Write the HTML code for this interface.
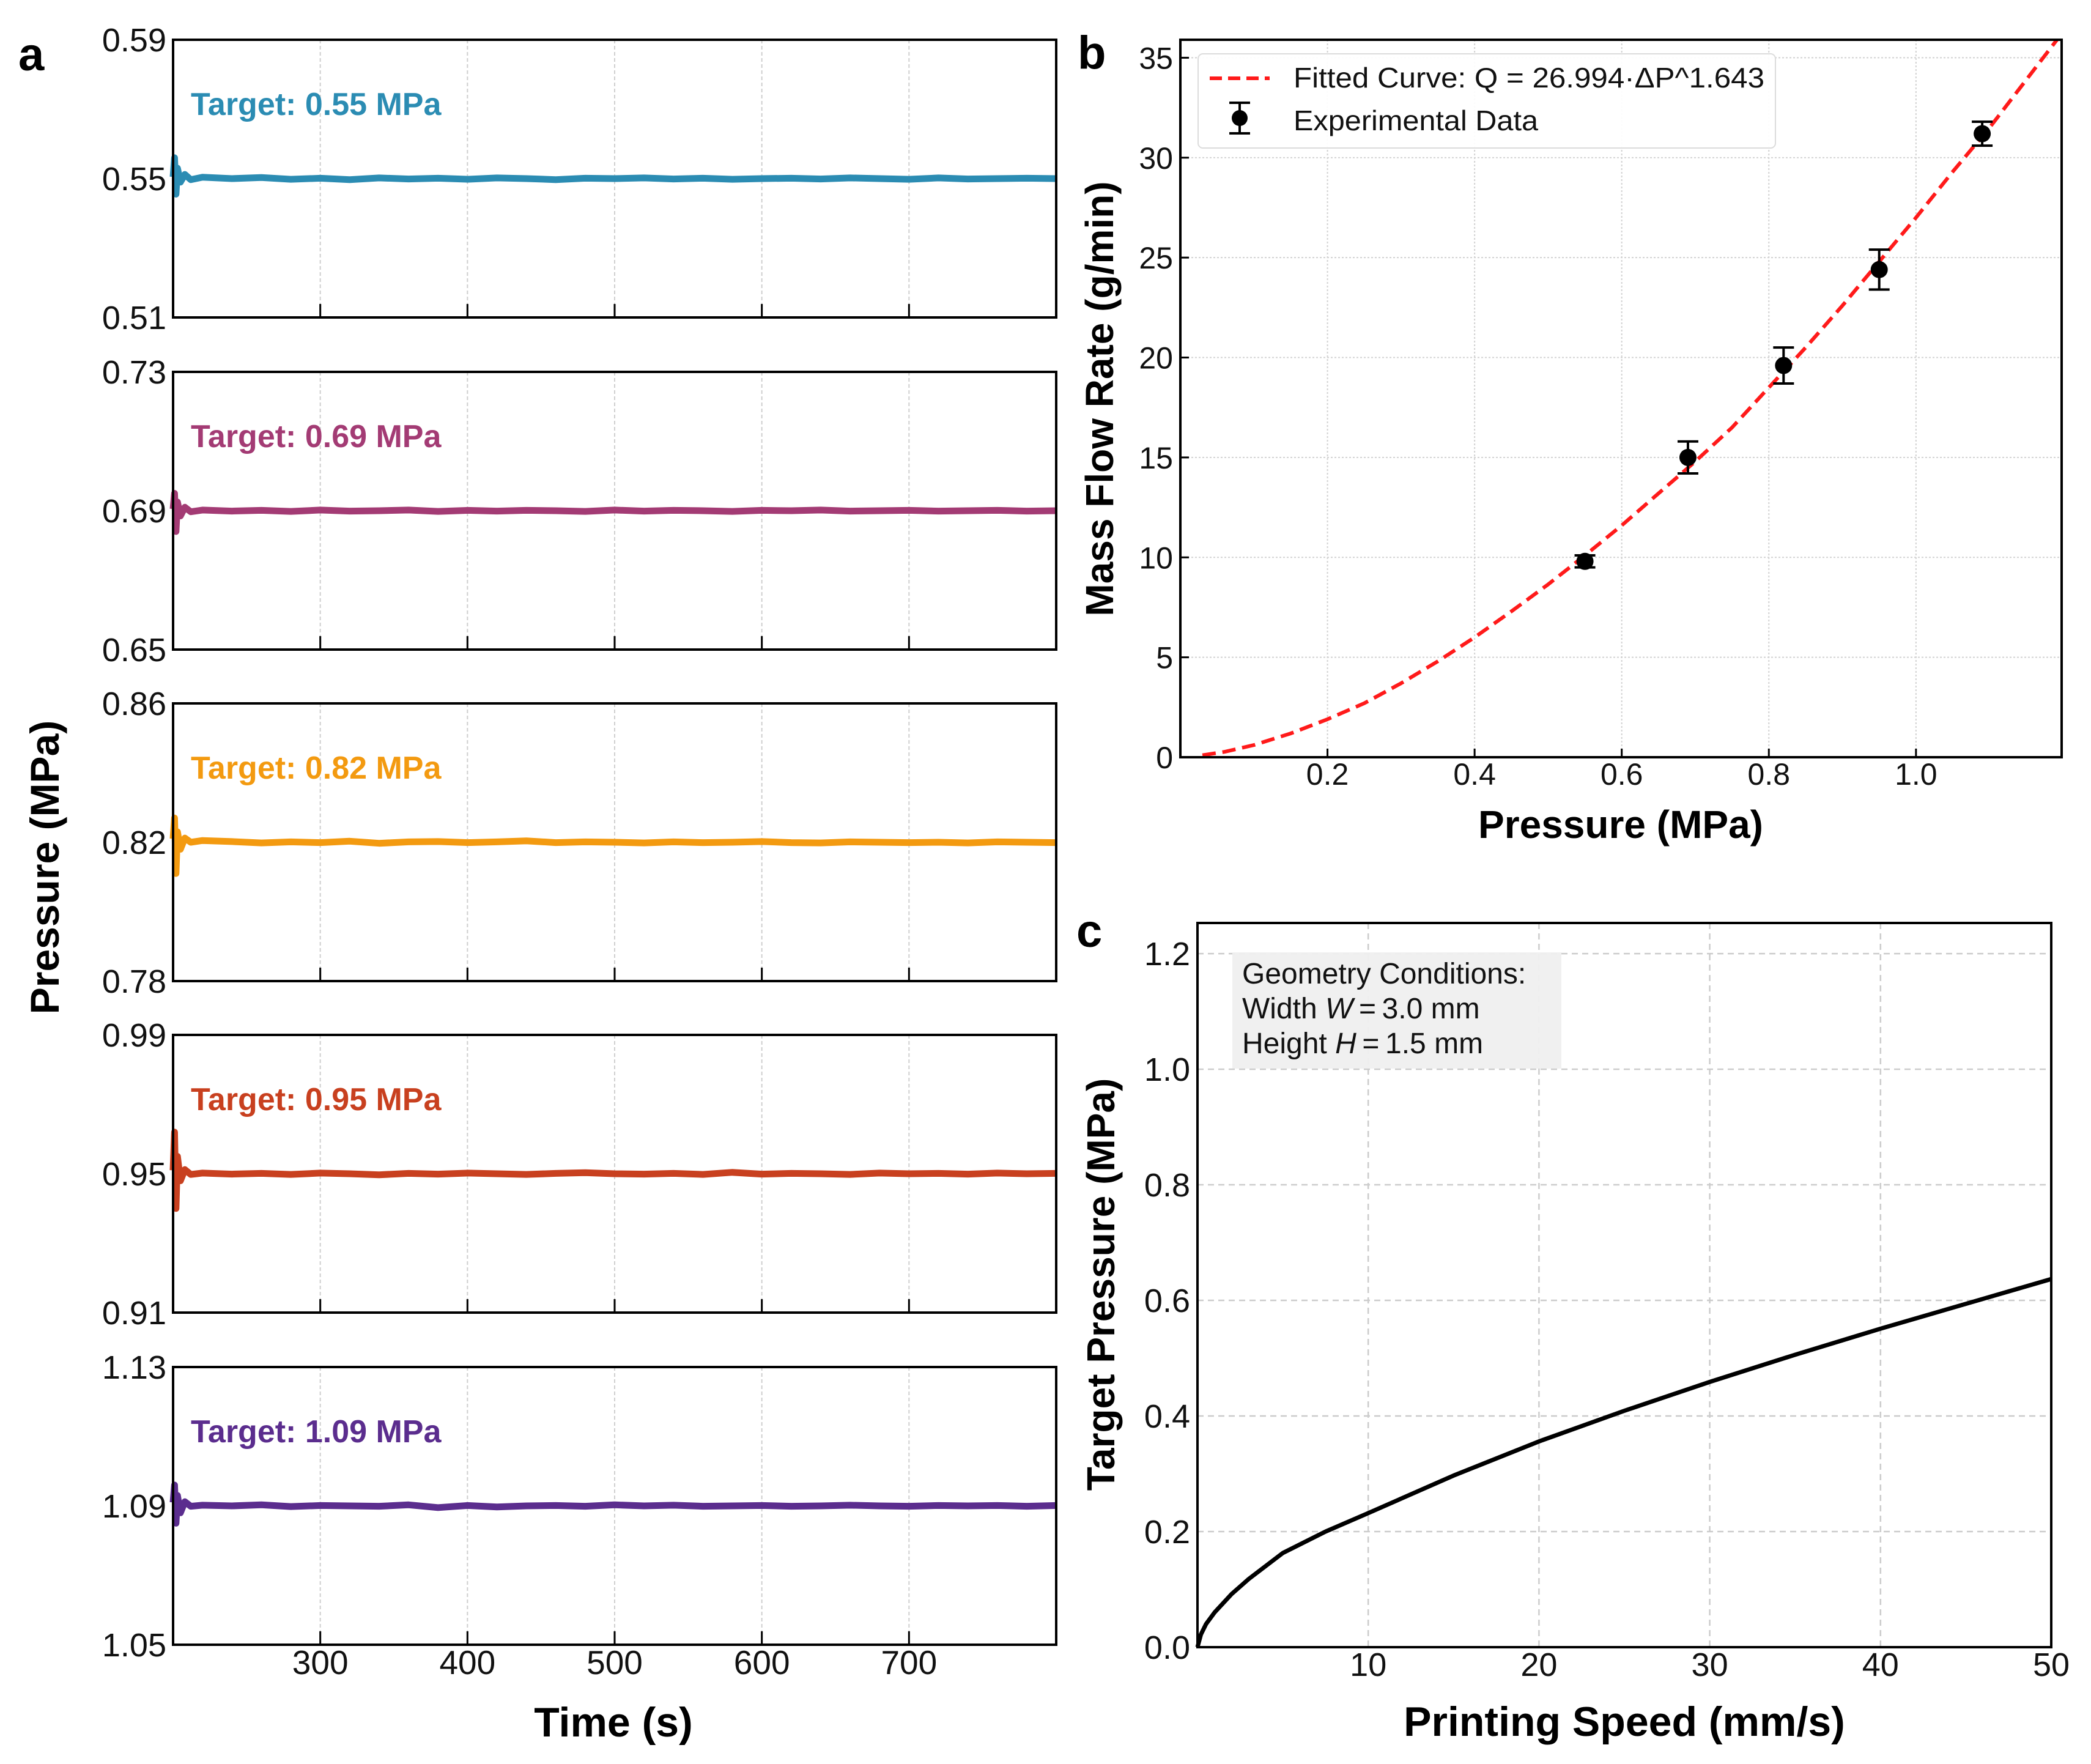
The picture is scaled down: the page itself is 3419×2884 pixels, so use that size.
<!DOCTYPE html>
<html><head><meta charset="utf-8">
<style>
html,body{margin:0;padding:0;background:#fff;}
svg{display:block;font-family:"Liberation Sans",Arial,sans-serif;}
</style></head>
<body>
<svg id="fig" width="3419" height="2884" viewBox="0 0 3419 2884" xmlns="http://www.w3.org/2000/svg">
<rect width="3419" height="2884" fill="#fff"/>
</svg>
<script>
// ---------- Panel a data ----------
const timeTicks = [300, 400, 500, 600, 700];
const times = [200,201,202,203,205,208,212,220,240,260,280,300,320,340,360,380,400,420,440,460,480,500,520,540,560,580,600,620,640,660,680,700,720,740,760,780,800];
const targets = [0.55, 0.69, 0.82, 0.95, 1.09];
const targetLabels = ["Target: 0.55 MPa","Target: 0.69 MPa","Target: 0.82 MPa","Target: 0.95 MPa","Target: 1.09 MPa"];
const yMinA = [0.51, 0.65, 0.78, 0.91, 1.05];
const yMaxA = [0.59, 0.73, 0.86, 0.99, 1.13];
const series055 = [0.5505,0.5560,0.5455,0.5530,0.5490,0.5512,0.5497,0.5504,0.5500,0.5503,0.5498,0.5501,0.5497,0.5502,0.5499,0.5501,0.5498,0.5502,0.5500,0.5497,0.5501,0.5500,0.5502,0.5499,0.5501,0.5498,0.5500,0.5501,0.5499,0.5502,0.5500,0.5498,0.5502,0.5499,0.5500,0.5501,0.5500];
const series069 = [0.6905,0.6950,0.6840,0.6925,0.6885,0.6910,0.6897,0.6902,0.6899,0.6901,0.6898,0.6902,0.6899,0.6900,0.6902,0.6898,0.6901,0.6899,0.6901,0.6900,0.6898,0.6902,0.6899,0.6901,0.6900,0.6898,0.6901,0.6900,0.6902,0.6899,0.6900,0.6901,0.6899,0.6900,0.6901,0.6899,0.6900];
const series082 = [0.8210,0.8270,0.8110,0.8230,0.8180,0.8212,0.8200,0.8205,0.8202,0.8198,0.8201,0.8199,0.8203,0.8197,0.8201,0.8202,0.8199,0.8201,0.8204,0.8199,0.8201,0.8200,0.8198,0.8201,0.8199,0.8200,0.8202,0.8199,0.8198,0.8201,0.8200,0.8199,0.8200,0.8198,0.8201,0.8200,0.8199];
const series095 = [0.9510,0.9620,0.9400,0.9550,0.9480,0.9512,0.9498,0.9502,0.9499,0.9501,0.9498,0.9502,0.9500,0.9497,0.9501,0.9499,0.9502,0.9500,0.9498,0.9501,0.9503,0.9500,0.9499,0.9501,0.9498,0.9504,0.9499,0.9501,0.9500,0.9498,0.9502,0.9500,0.9501,0.9499,0.9502,0.9500,0.9501];
const series109 = [1.0910,1.0960,1.0850,1.0930,1.0880,1.0912,1.0899,1.0902,1.0900,1.0903,1.0898,1.0901,1.0900,1.0899,1.0903,1.0895,1.0901,1.0897,1.0900,1.0901,1.0899,1.0903,1.0900,1.0902,1.0899,1.0900,1.0901,1.0899,1.0900,1.0902,1.0900,1.0899,1.0901,1.0900,1.0901,1.0899,1.0901];
const seriesA = [series055, series069, series082, series095, series109];
const colorsA = ["#2b8cb3","#a33b74","#f39a10","#c8401f","#5b2d8e"];

// ---------- Panel b data ----------
const bXTicks = [0.2, 0.4, 0.6, 0.8, 1.0];
const bXTickLabels = ["0.2","0.4","0.6","0.8","1.0"];
const bYTicks = [0, 5, 10, 15, 20, 25, 30, 35];
const expPressure = [0.55, 0.69, 0.82, 0.95, 1.09];
const expFlow = [9.8, 15.0, 19.6, 24.4, 31.2];
const expErr = [0.3, 0.8, 0.9, 1.0, 0.6];
const fitP = [0.03,0.06,0.1,0.15,0.2,0.25,0.3,0.35,0.4,0.45,0.5,0.55,0.6,0.65,0.7,0.75,0.8,0.85,0.9,0.95,1.0,1.05,1.1,1.15,1.2];
const fitQ = [0.1,0.27,0.61,1.19,1.9,2.7,3.7,4.8,6.0,7.3,8.65,10.1,11.6,13.2,14.8,16.5,18.5,20.5,22.6,24.8,27.0,29.3,31.5,33.9,36.3];

// ---------- Panel c data ----------
const cXTicks = [10, 20, 30, 40, 50];
const cYTicks = [0.0, 0.2, 0.4, 0.6, 0.8, 1.0, 1.2];
const cYTickLabels = ["0.0","0.2","0.4","0.6","0.8","1.0","1.2"];
const speed = [0,0.2,0.5,1,2,3,5,7.5,10,15,20,25,30,35,40,45,50];
const targetPressure = [0,0.022,0.04,0.06,0.092,0.118,0.163,0.2,0.232,0.297,0.356,0.409,0.459,0.506,0.551,0.594,0.637];

const NS = "http://www.w3.org/2000/svg";
const svg = document.getElementById('fig');
function mk(tag, attrs, parent){
  const e = document.createElementNS(NS, tag);
  for (const k in attrs) e.setAttribute(k, attrs[k]);
  (parent||svg).appendChild(e);
  return e;
}
function txt(s, attrs, parent){ const e = mk('text', attrs, parent); e.textContent = s; return e; }

// ================= Panel a =================
const aL = 283, aR = 1727, aH = 454;
const aTops = [65, 608, 1150, 1692, 2235];
const tMin = 200, tMax = 800;
const ax = t => aL + (t - tMin) / (tMax - tMin) * (aR - aL);

const pa = mk('g', {});



for (let i = 0; i < 5; i++) {
  const top = aTops[i], bot = top + aH;
  const ay = v => bot - (v - yMinA[i]) / (yMaxA[i] - yMinA[i]) * aH;
  const g = mk('g', {}, pa);
  
  
  timeTicks.forEach(t => {
    const gl = mk('line', {x1:ax(t), x2:ax(t), y1:top, y2:bot, stroke:'#cfcfcf', 'stroke-width':2, 'stroke-dasharray':'6,4'}, g);
    
    
    const tk = mk('line', {x1:ax(t), x2:ax(t), y1:bot, y2:bot-22, stroke:'#000', 'stroke-width':3}, g);
    
    
  });
  const d = times.map((t, k) => (k ? 'L' : 'M') + ax(t).toFixed(1) + ',' + ay(seriesA[i][k]).toFixed(1)).join(' ');
  const p = mk('path', {d:d, fill:'none', stroke:colorsA[i], 'stroke-width':11, 'stroke-linejoin':'round'}, g);
  
  
  const fr = mk('rect', {x:aL, y:top, width:aR-aL, height:aH, fill:'none', stroke:'#000', 'stroke-width':4}, g);
  
  
  [yMinA[i], targets[i], yMaxA[i]].forEach(v => {
    const tl = txt(v.toFixed(2), {x:272, y:ay(v)+19, 'text-anchor':'end', 'font-size':54, fill:'#111'}, g);
    
    
  });
  const lb = txt(targetLabels[i], {x:312, y:top+123, 'font-size':52, 'font-weight':'bold', fill:colorsA[i]}, g);
  
  
}
timeTicks.forEach(t => {
  const tl = txt(String(t), {x:ax(t), y:2737, 'text-anchor':'middle', 'font-size':55, fill:'#111'}, pa);
  
  
});
const aXt = txt('Time (s)', {x:1003, y:2839, 'text-anchor':'middle', 'font-size':68, 'font-weight':'bold'}, pa);


const aYt = txt('Pressure (MPa)', {x:0, y:0, transform:'translate(96,1418) rotate(-90)', 'text-anchor':'middle', 'font-size':66, 'font-weight':'bold'}, pa);


const aLab = txt('a', {x:30, y:115, 'font-size':76, 'font-weight':'bold'}, pa);



// ================= Panel b =================
const bL = 1930, bR = 3371, bT = 65, bB = 1238;
const bxMax = 1.198, byMax = 35.9;
const bx = v => bL + v / bxMax * (bR - bL);
const by = v => bB - v / byMax * (bB - bT);
const pb = mk('g', {});


const cp = mk('clipPath', {id:'clipb'}, pb);
mk('rect', {x:bL, y:bT, width:bR-bL, height:bB-bT}, cp);
bXTicks.forEach((v, i) => {
  const gl = mk('line', {x1:bx(v), x2:bx(v), y1:bT, y2:bB, stroke:'#d2d2d2', 'stroke-width':2, 'stroke-dasharray':'3,3'}, pb);
  
  
  const tk = mk('line', {x1:bx(v), x2:bx(v), y1:bB, y2:bB-14, stroke:'#000', 'stroke-width':3}, pb);
  
  
  const tl = txt(bXTickLabels[i], {x:bx(v), y:1283, 'text-anchor':'middle', 'font-size':50, fill:'#111'}, pb);
  
  
});
bYTicks.forEach(v => {
  if (v > 0) {
    const gl = mk('line', {x1:bL, x2:bR, y1:by(v), y2:by(v), stroke:'#d2d2d2', 'stroke-width':2, 'stroke-dasharray':'3,3'}, pb);
    
    
  }
  const tk = mk('line', {x1:bL, x2:bL+14, y1:by(v), y2:by(v), stroke:'#000', 'stroke-width':3}, pb);
  
  
  const tl = txt(String(v), {x:1918, y:by(v)+18, 'text-anchor':'end', 'font-size':50, fill:'#111'}, pb);
  
  
});
const fitD = fitP.map((p, k) => (k ? 'L' : 'M') + bx(p).toFixed(1) + ',' + by(fitQ[k]).toFixed(1)).join(' ');
const fit = mk('path', {d:fitD, fill:'none', stroke:'#ff1a1a', 'stroke-width':6, 'stroke-dasharray':'22,11', 'stroke-linejoin':'round', 'clip-path':'url(#clipb)'}, pb);


expPressure.forEach((p, k) => {
  const g = mk('g', {}, pb);
  
  
  const x = bx(p), y1 = by(expFlow[k] - expErr[k]), y2 = by(expFlow[k] + expErr[k]);
  mk('line', {x1:x, x2:x, y1:y1, y2:y2, stroke:'#000', 'stroke-width':4}, g);
  mk('line', {x1:x-17, x2:x+17, y1:y1, y2:y1, stroke:'#000', 'stroke-width':4}, g);
  mk('line', {x1:x-17, x2:x+17, y1:y2, y2:y2, stroke:'#000', 'stroke-width':4}, g);
  mk('circle', {cx:x, cy:by(expFlow[k]), r:14, fill:'#000'}, g);
});
const bFr = mk('rect', {x:bL, y:bT, width:bR-bL, height:bB-bT, fill:'none', stroke:'#000', 'stroke-width':4}, pb);


const leg = mk('g', {}, pb);


mk('rect', {x:1959, y:88, width:944, height:154, rx:8, fill:'#fff', 'fill-opacity':0.92, stroke:'#dcdcdc', 'stroke-width':2}, leg);
mk('line', {x1:1978, x2:2076, y1:128, y2:128, stroke:'#ff1a1a', 'stroke-width':6, 'stroke-dasharray':'20,10'}, leg);
txt('Fitted Curve: Q = 26.994·ΔP^1.643', {x:2115, y:143, 'font-size':46, fill:'#111', textLength:770, lengthAdjust:'spacingAndGlyphs'}, leg);
mk('line', {x1:2027, x2:2027, y1:168, y2:218, stroke:'#000', 'stroke-width':4}, leg);
mk('line', {x1:2010, x2:2044, y1:168, y2:168, stroke:'#000', 'stroke-width':4}, leg);
mk('line', {x1:2010, x2:2044, y1:218, y2:218, stroke:'#000', 'stroke-width':4}, leg);
mk('circle', {cx:2027, cy:193, r:13, fill:'#000'}, leg);
txt('Experimental Data', {x:2115, y:213, 'font-size':46, fill:'#111', textLength:400, lengthAdjust:'spacingAndGlyphs'}, leg);
const bXt = txt('Pressure (MPa)', {x:2650, y:1370, 'text-anchor':'middle', 'font-size':64, 'font-weight':'bold'}, pb);


const bYt = txt('Mass Flow Rate (g/min)', {x:0, y:0, transform:'translate(1820,652) rotate(-90)', 'text-anchor':'middle', 'font-size':64, 'font-weight':'bold'}, pb);


const bLab = txt('b', {x:1762, y:112, 'font-size':76, 'font-weight':'bold'}, pb);



// ================= Panel c =================
const cL = 1958, cR = 3354, cT = 1509, cB = 2693;
const cxMax = 50, cyMax = 1.253;
const cx = v => cL + v / cxMax * (cR - cL);
const cy = v => cB - v / cyMax * (cB - cT);
const pc = mk('g', {});


cXTicks.forEach(v => {
  if (v < 50) {
    const gl = mk('line', {x1:cx(v), x2:cx(v), y1:cT, y2:cB, stroke:'#cccccc', 'stroke-width':2.5, 'stroke-dasharray':'10,7'}, pc);
    
    
  }
  const tl = txt(String(v), {x:cx(v), y:2740, 'text-anchor':'middle', 'font-size':54, fill:'#111'}, pc);
  
  
});
cYTicks.forEach((v, i) => {
  if (v > 0) {
    const gl = mk('line', {x1:cL, x2:cR, y1:cy(v), y2:cy(v), stroke:'#cccccc', 'stroke-width':2.5, 'stroke-dasharray':'10,7'}, pc);
    
    
  }
  const tl = txt(cYTickLabels[i], {x:1946, y:cy(v)+19, 'text-anchor':'end', 'font-size':54, fill:'#111'}, pc);
  
  
});
const ann = mk('g', {}, pc);


mk('rect', {x:2015, y:1557, width:538, height:190, fill:'#efefef', 'fill-opacity':0.95}, ann);
txt('Geometry Conditions:', {x:2031, y:1608, 'font-size':48, fill:'#111'}, ann);
const l2 = txt('', {x:2031, y:1665, 'font-size':48, fill:'#111'}, ann);
l2.innerHTML = 'Width <tspan font-style="italic">W</tspan>\u2009=\u20093.0 mm';
const l3 = txt('', {x:2031, y:1722, 'font-size':48, fill:'#111'}, ann);
l3.innerHTML = 'Height <tspan font-style="italic">H</tspan>\u2009=\u20091.5 mm';
const cD = speed.map((s, k) => (k ? 'L' : 'M') + cx(s).toFixed(1) + ',' + cy(targetPressure[k]).toFixed(1)).join(' ');
const curve = mk('path', {d:cD, fill:'none', stroke:'#000', 'stroke-width':7, 'stroke-linejoin':'round'}, pc);


const cFr = mk('rect', {x:cL, y:cT, width:cR-cL, height:cB-cT, fill:'none', stroke:'#000', 'stroke-width':4}, pc);


const cXt = txt('Printing Speed (mm/s)', {x:2656, y:2838, 'text-anchor':'middle', 'font-size':68, 'font-weight':'bold'}, pc);


const cYt = txt('Target Pressure (MPa)', {x:0, y:0, transform:'translate(1822,2100) rotate(-90)', 'text-anchor':'middle', 'font-size':64, 'font-weight':'bold'}, pc);


const cLab = txt('c', {x:1760, y:1548, 'font-size':76, 'font-weight':'bold'}, pc);


</script>
</body></html>
